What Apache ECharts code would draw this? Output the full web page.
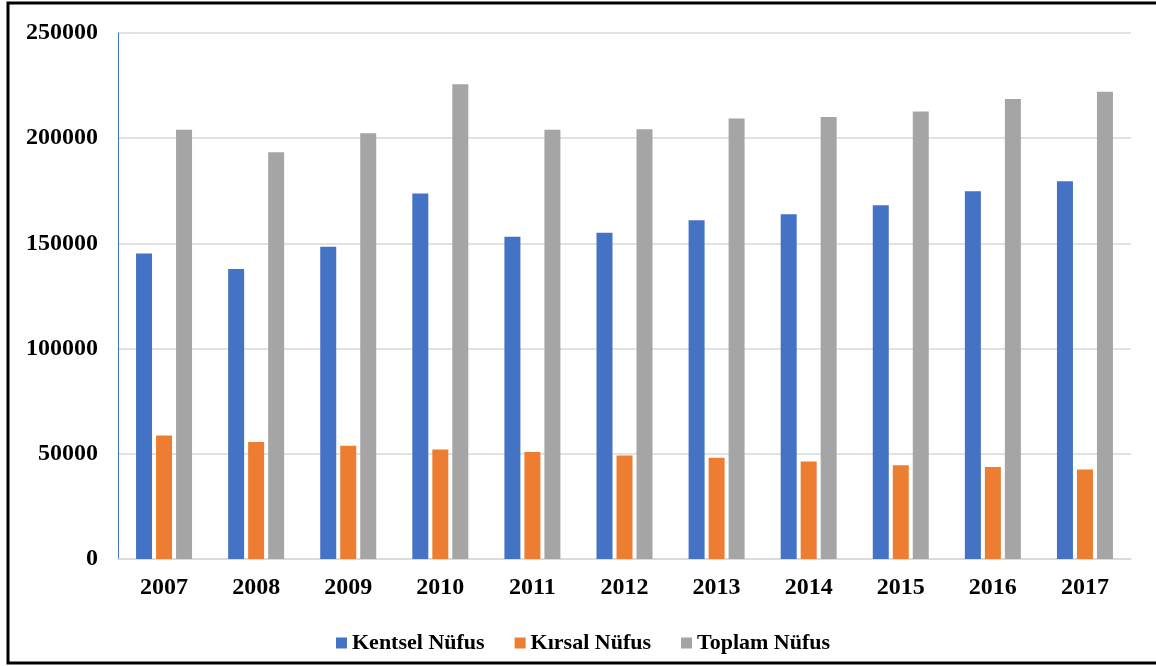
<!DOCTYPE html>
<html>
<head>
<meta charset="utf-8">
<script src="https://cdn.jsdelivr.net/npm/echarts@6/dist/echarts.min.js"></script>
<style>
html,body{margin:0;padding:0;background:#fff;}
#chart{width:1156px;height:666px;}
</style>
</head>
<body>
<div id="chart"></div>
<script>
const years = ['2007','2008','2009','2010','2011','2012','2013','2014','2015','2016','2017'];
const kentsel = [145200,137800,148400,173700,153200,155100,161000,163800,168100,174800,179500];
const kirsal = [58700,55600,53800,52000,50800,49200,48100,46300,44600,43700,42500];
const toplam = [204000,193300,202400,225700,204000,204300,209400,210100,212700,218600,222100];
const yTicks = [0,50000,100000,150000,200000,250000];
const seriesNames = ['Kentsel Nüfus','Kırsal Nüfus','Toplam Nüfus'];

const font = 'Liberation Serif';
const legendText = {fontFamily:font,fontWeight:'bold',fontSize:22,color:'#000'};
const chart = echarts.init(document.getElementById('chart'));
chart.setOption({
  animation:false,
  backgroundColor:'#fff',
  textStyle:{fontFamily:font,fontWeight:'bold',color:'#000'},
  graphic:[{type:'rect',shape:{x:8,y:3,width:1170,height:660},style:{fill:'none',stroke:'#000',lineWidth:3},z:100}],
  grid:{left:118,right:25,top:33,bottom:107,containLabel:false},
  legend:{
    left:331, top:627, itemWidth:11, itemHeight:11, itemGap:30, icon:'rect',
    textStyle:legendText,
    data:seriesNames.map(function(n){return {name:n,textStyle:legendText};})
  },
  xAxis:{
    type:'category', data:years,
    axisLine:{lineStyle:{color:'#d9d9d9',width:1.5}},
    axisTick:{show:false},
    axisLabel:{fontFamily:font,fontWeight:'bold',fontSize:24,color:'#000',margin:17}
  },
  yAxis:{
    type:'value', min:yTicks[0], max:yTicks[yTicks.length-1], interval:50000,
    axisLine:{show:true,lineStyle:{color:'#4472C4',width:1}},
    axisTick:{show:false},
    splitLine:{lineStyle:{color:'#d9d9d9',width:1.5}},
    axisLabel:{fontFamily:font,fontWeight:'bold',fontSize:24,color:'#000',margin:20,formatter:function(v){return String(v);}}
  },
  series:[
    {name:seriesNames[0],type:'bar',data:kentsel,barWidth:16,barGap:'25%',itemStyle:{color:'#4472C4'}},
    {name:seriesNames[1],type:'bar',data:kirsal,barWidth:16,barGap:'25%',itemStyle:{color:'#ED7D31'}},
    {name:seriesNames[2],type:'bar',data:toplam,barWidth:16,barGap:'25%',itemStyle:{color:'#A5A5A5'}}
  ]
});
</script>
</body>
</html>
